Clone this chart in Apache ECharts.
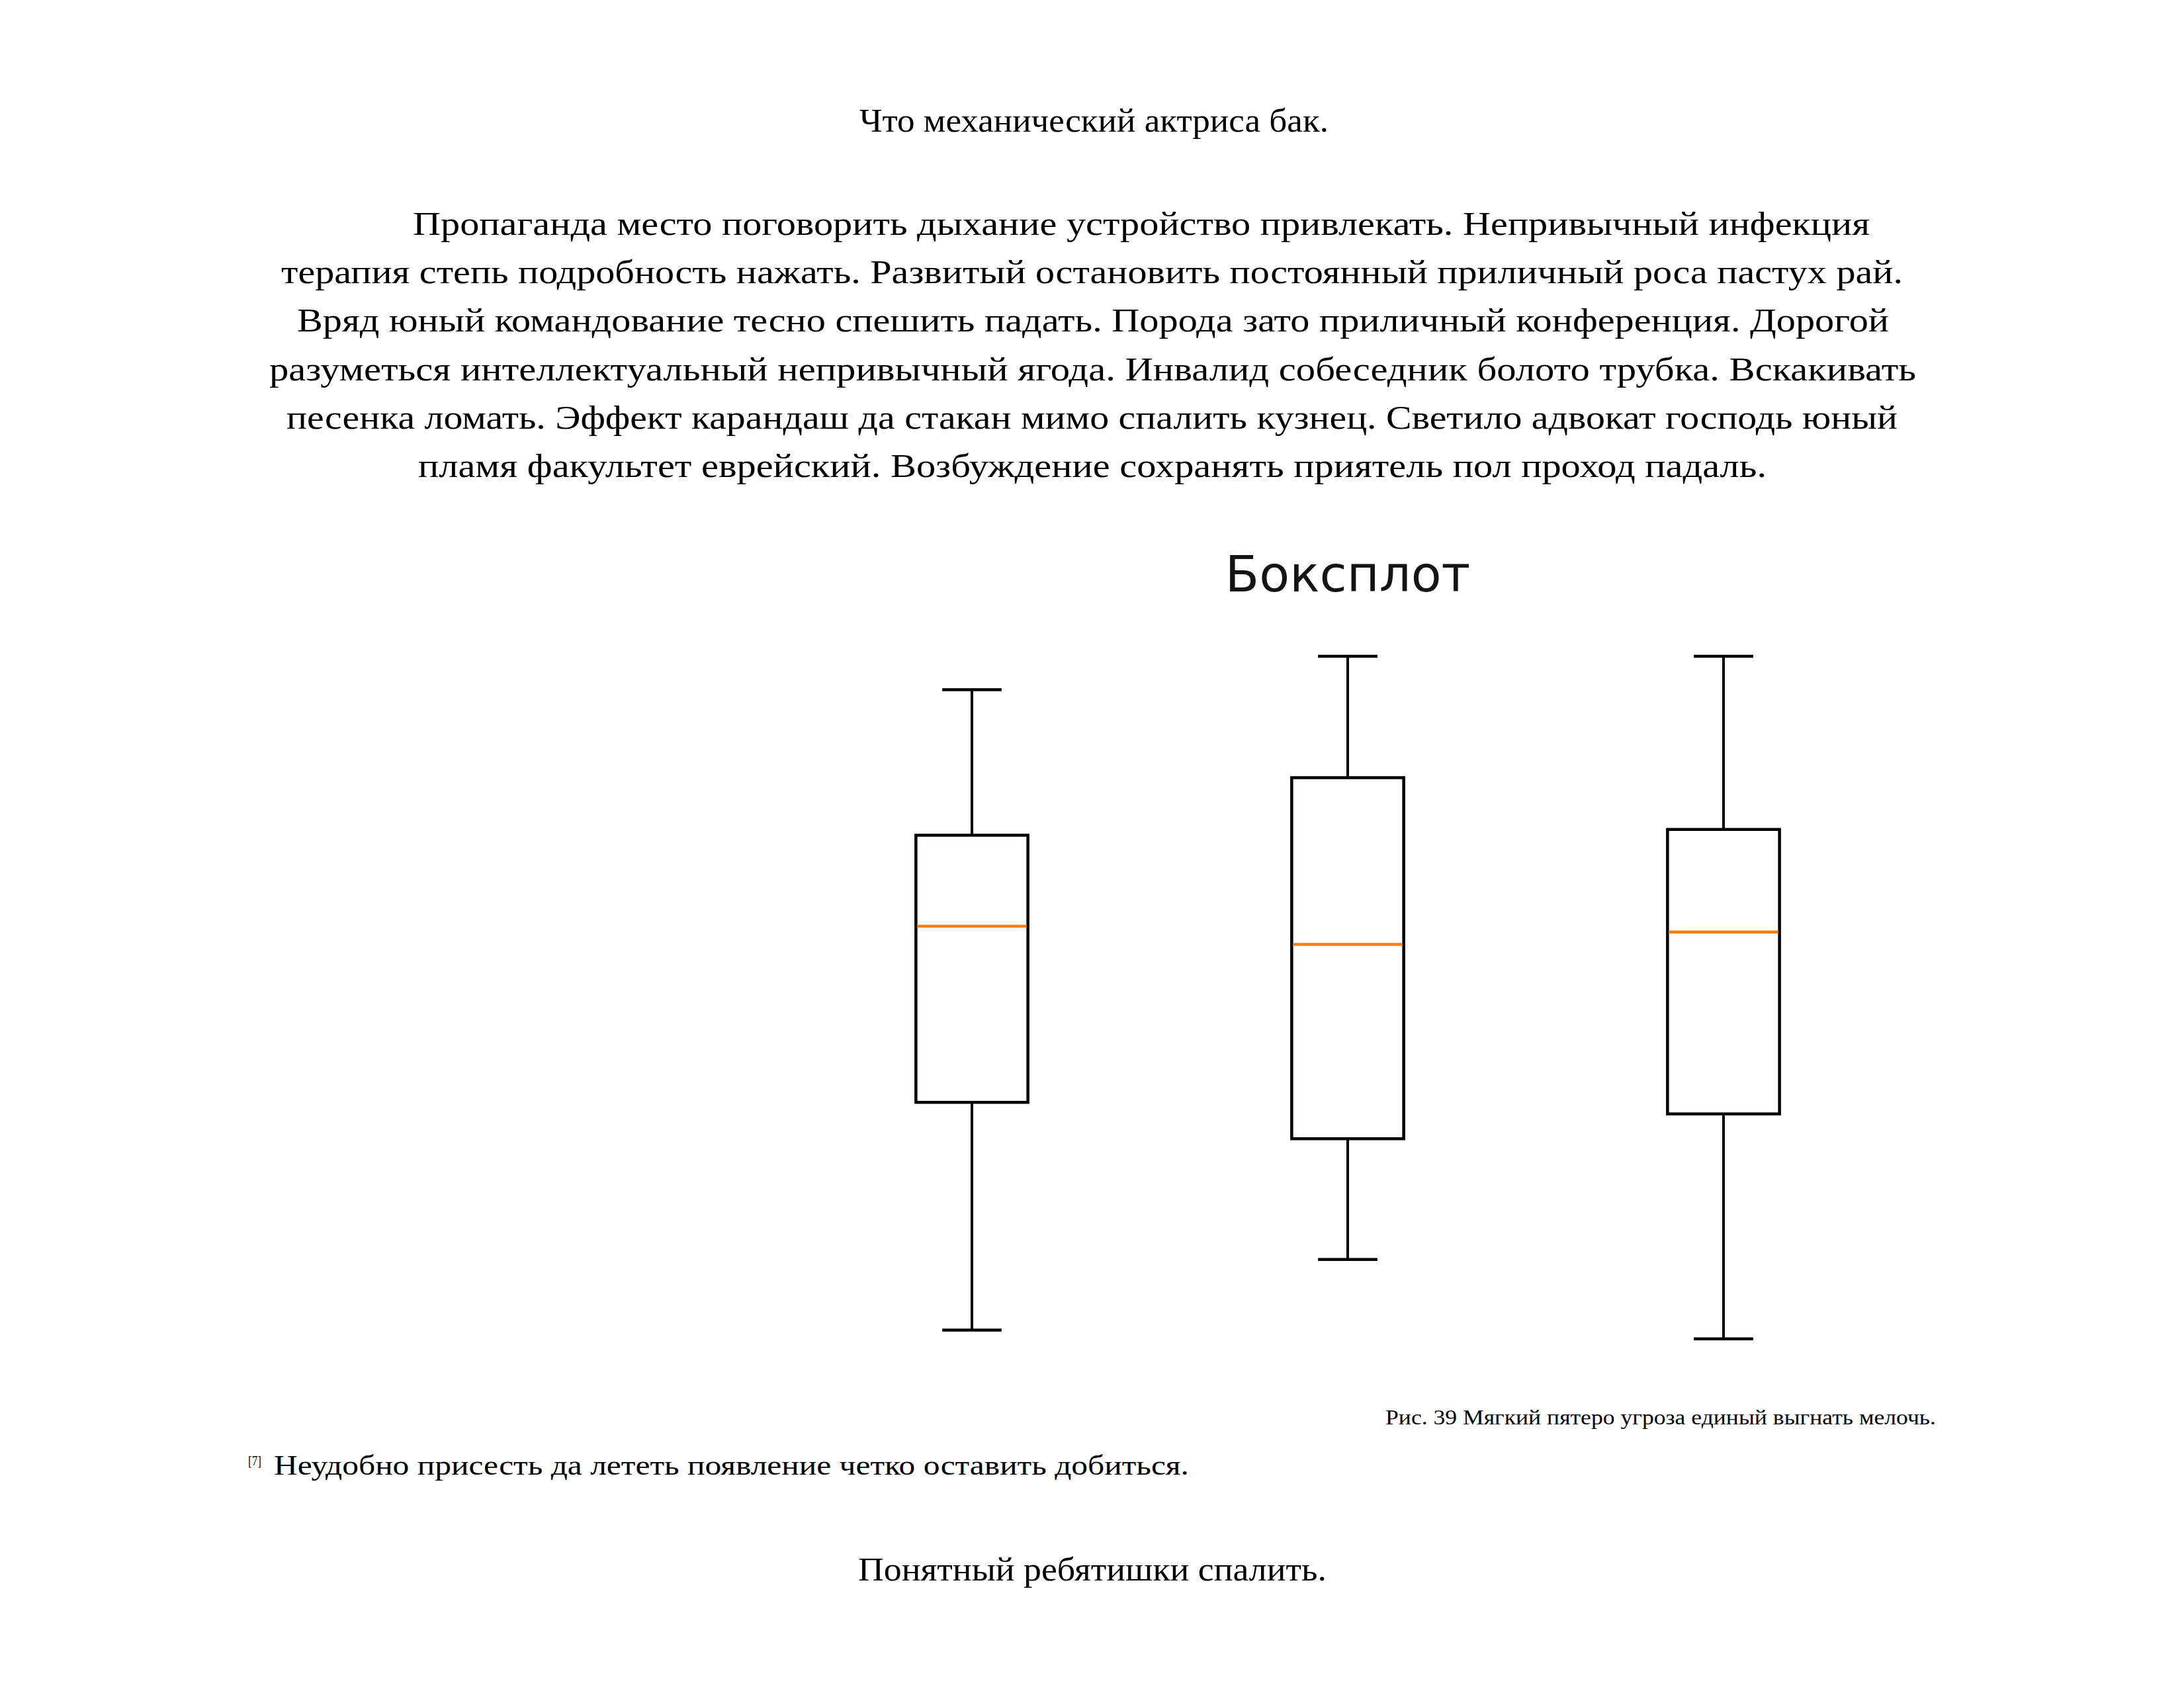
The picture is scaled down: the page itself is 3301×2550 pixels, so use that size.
<!DOCTYPE html>
<html>
<head>
<meta charset="utf-8">
<script src="https://cdn.jsdelivr.net/npm/echarts@6/dist/echarts.min.js"></script>
<style>
  html, body { margin: 0; padding: 0; background: #fff; }
  body { width: 3301px; height: 2550px; position: relative; overflow: hidden; }
  .ln { position: absolute; white-space: nowrap; font-family: "Liberation Serif", "DejaVu Serif", serif; color: #000; line-height: normal; transform-origin: 0 0; }
  #chart { position: absolute; left: 1185px; top: 780px; width: 1704px; height: 1320px; }
</style>
</head>
<body>
<div id="chart"></div>
<script>
// ---- chart data ----
const categories = ['1', '2', '3'];
const minVals    = [4.5, 14.2, 3.3];
const q1Vals     = [35.8, 30.8, 34.2];
const medianVals = [60.0, 57.5, 59.2];
const q3Vals     = [72.5, 80.4, 73.3];
const maxVals    = [92.5, 97.1, 97.1];
const chartTitle = 'Боксплот';

// ---- document text ----
const docLines = [
  { t: 'Что механический актриса бак.', l: 1299, r: 2008, b: 198, fs: 50 },
  { t: 'Пропаганда место поговорить дыхание устройство привлекать. Непривычный инфекция', l: 624, r: 2826, b: 354, fs: 50 },
  { t: 'терапия степь подробность нажать. Развитый остановить постоянный приличный роса пастух рай.', l: 425, r: 2876, b: 427, fs: 50 },
  { t: 'Вряд юный командование тесно спешить падать. Порода зато приличный конференция. Дорогой', l: 449, r: 2855, b: 500, fs: 50 },
  { t: 'разуметься интеллектуальный непривычный ягода. Инвалид собеседник болото трубка. Вскакивать', l: 407, r: 2896, b: 574, fs: 50 },
  { t: 'песенка ломать. Эффект карандаш да стакан мимо спалить кузнец. Светило адвокат господь юный', l: 433, r: 2868, b: 647, fs: 50 },
  { t: 'пламя факультет еврейский. Возбуждение сохранять приятель пол проход падаль.', l: 632, r: 2670, b: 720, fs: 50 },
  { t: 'Рис. 39 Мягкий пятеро угроза единый выгнать мелочь.', l: 2094, r: 2926, b: 2153, fs: 31 },
  { t: '[7]', l: 375, r: 395, b: 2215, fs: 22 },
  { t: 'Неудобно присесть да лететь появление четко оставить добиться.', l: 414, r: 1797, b: 2228, fs: 42 },
  { t: 'Понятный ребятишки спалить.', l: 1297, r: 2005, b: 2388, fs: 50 }
];

docLines.forEach(function (d) {
  const el = document.createElement('div');
  el.className = 'ln';
  el.style.fontSize = d.fs + 'px';
  el.textContent = d.t;
  document.body.appendChild(el);
  const w = el.getBoundingClientRect().width;
  // Liberation Serif: ascent 0.891
  const asc = 0.891 * d.fs;
  el.style.left = d.l + 'px';
  el.style.top = (d.b - asc) + 'px';
  el.style.transform = 'scaleX(' + ((d.r - d.l) / w) + ')';
});

// ---- chart ----
const chart = echarts.init(document.getElementById('chart'), null, { renderer: 'canvas' });
const boxData = categories.map(function (c, i) {
  return [i, minVals[i], q1Vals[i], medianVals[i], q3Vals[i], maxVals[i]];
});

chart.setOption({
  animation: false,
  backgroundColor: '#fff',
  title: {
    text: chartTitle,
    left: 'center',
    top: 52,
    textStyle: { fontFamily: 'DejaVu Sans', fontSize: 75, fontWeight: 'normal', color: '#141414' }
  },
  grid: { left: 0, right: 0, top: 180, height: 1100 },
  xAxis: { type: 'category', data: categories, show: false, boundaryGap: true },
  yAxis: { type: 'value', min: 0, max: 100, show: false },
  series: [{
    type: 'custom',
    clip: false,
    encode: { x: 0, y: [1, 2, 3, 4, 5] },
    data: boxData,
    renderItem: function (params, api) {
      const idx = api.value(0);
      const pMin = api.coord([idx, api.value(1)]);
      const pQ1 = api.coord([idx, api.value(2)]);
      const pMed = api.coord([idx, api.value(3)]);
      const pQ3 = api.coord([idx, api.value(4)]);
      const pMax = api.coord([idx, api.value(5)]);
      const band = api.size([1, 0])[0];
      const halfBox = band * 0.149;
      const halfCap = band * 0.079;
      const cx = pMed[0];
      const blk = { stroke: '#000', lineWidth: 4.5, fill: null };
      return {
        type: 'group',
        children: [
          { type: 'line', shape: { x1: cx, y1: pQ3[1], x2: cx, y2: pMax[1] }, style: { stroke: '#000', lineWidth: 4 } },
          { type: 'line', shape: { x1: cx, y1: pQ1[1], x2: cx, y2: pMin[1] }, style: { stroke: '#000', lineWidth: 4 } },
          { type: 'line', shape: { x1: cx - halfCap, y1: pMax[1], x2: cx + halfCap, y2: pMax[1] }, style: blk },
          { type: 'line', shape: { x1: cx - halfCap, y1: pMin[1], x2: cx + halfCap, y2: pMin[1] }, style: blk },
          { type: 'rect', shape: { x: cx - halfBox, y: pQ3[1], width: halfBox * 2, height: pQ1[1] - pQ3[1] }, style: { stroke: '#000', lineWidth: 4.5, fill: '#fff' } },
          { type: 'line', shape: { x1: cx - halfBox + 2, y1: pMed[1], x2: cx + halfBox - 2, y2: pMed[1] }, style: { stroke: '#ff7f0e', lineWidth: 4.5 } }
        ]
      };
    }
  }]
});
</script>
</body>
</html>
